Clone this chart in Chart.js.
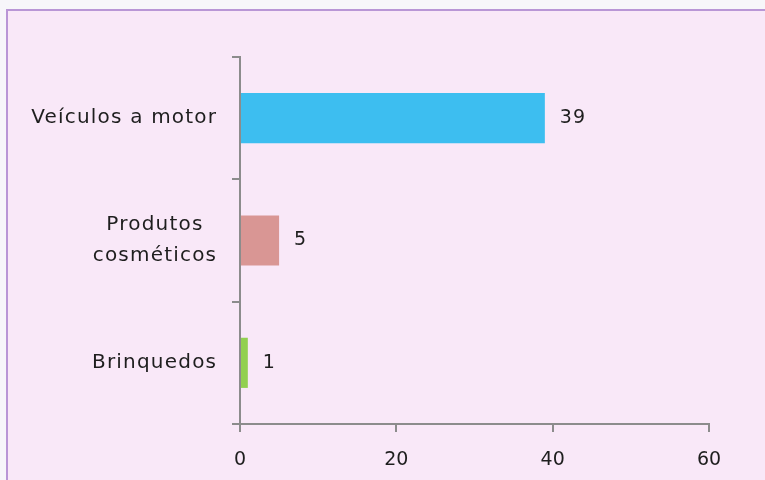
<!DOCTYPE html>
<html>
<head>
<meta charset="utf-8">
<script src="https://cdn.jsdelivr.net/npm/chart.js@4/dist/chart.umd.min.js"></script>
<style>
  html, body { margin: 0; padding: 0; background: #F7F6FA; }
  #wrap { position: absolute; left: 0; top: 0; width: 765px; height: 480px; overflow: hidden; }
  #frame { position: absolute; left: 6px; top: 9px; width: 800px; height: 520px; background: #F9E8F8; border: 2px solid #B996D6; box-sizing: border-box; }
  canvas { position: absolute; left: 0; top: 0; }
</style>
</head>
<body>
<div id="wrap">
  <div id="frame"></div>
  <canvas id="c" width="765" height="480"></canvas>
</div>
<script>
const categories = [["Veículos a motor"], ["Produtos", "cosméticos"], ["Brinquedos"]];
const values = [39, 5, 1];
const barColors = ["#3DBEF0", "#D99694", "#92D050"];
const xTicks = [0, 20, 40, 60];

const FONT = "'DejaVu Sans', sans-serif";
const FONT_SIZE = 19;
const CAT_FONT_SIZE = 20;
const CAT_SPACING = 1.2;
const TEXT = "#1E1E1E";
const AXIS = "#8C8C8C";

const customLabels = {
  id: "customLabels",
  afterDatasetsDraw(chart) {
    const ctx = chart.ctx;
    const y = chart.scales.y;
    ctx.save();
    ctx.fillStyle = TEXT;
    ctx.font = CAT_FONT_SIZE + "px " + FONT;
    ctx.textBaseline = "middle";
    ctx.letterSpacing = CAT_SPACING + "px";
    categories.forEach((lines, i) => {
      const cy = y.getPixelForValue(i);
      const widths = lines.map(l => ctx.measureText(l).width);
      const bw = Math.max(...widths);
      const right = y.right - 24 + CAT_SPACING;
      const lh = 31;
      const top = cy - (lines.length - 1) * lh / 2;
      ctx.textAlign = "center";
      lines.forEach((l, k) => {
        ctx.fillText(l, right - bw / 2, top + k * lh);
      });
    });
    ctx.font = FONT_SIZE + "px " + FONT;
    ctx.letterSpacing = "1px";
    const meta = chart.getDatasetMeta(0);
    ctx.textAlign = "left";
    meta.data.forEach((bar, i) => {
      ctx.fillText(String(values[i]), bar.x + 15, bar.y);
    });
    ctx.restore();
  }
};

new Chart(document.getElementById("c"), {
  type: "bar",
  data: {
    labels: categories.map(l => l.join(" ")),
    datasets: [{
      data: values,
      backgroundColor: barColors,
      borderWidth: 0,
      barPercentage: 0.41,
      categoryPercentage: 1.0
    }]
  },
  options: {
    indexAxis: "y",
    responsive: false,
    animation: false,
    devicePixelRatio: 1,
    layout: { padding: { top: 57, right: 56, left: 0, bottom: 0 } },
    plugins: { legend: { display: false }, tooltip: { enabled: false } },
    scales: {
      x: {
        min: 0, max: 60,
        afterBuildTicks(scale) { scale.ticks = xTicks.map(v => ({ value: v })); },
        afterFit(scale) { scale.height = 56; },
        border: { display: true, color: AXIS, width: 2 },
        grid: { display: true, drawOnChartArea: false, drawTicks: true, tickLength: 8, color: AXIS, lineWidth: 2 },
        ticks: { color: TEXT, font: { family: FONT, size: FONT_SIZE }, padding: 17 }
      },
      y: {
        afterFit(scale) { scale.width = 240; },
        border: { display: true, color: AXIS, width: 2 },
        grid: { display: true, offset: true, drawOnChartArea: false, drawTicks: true, tickLength: 8, color: AXIS, lineWidth: 2 },
        ticks: { display: false }
      }
    }
  },
  plugins: [customLabels]
});
</script>
</body>
</html>
